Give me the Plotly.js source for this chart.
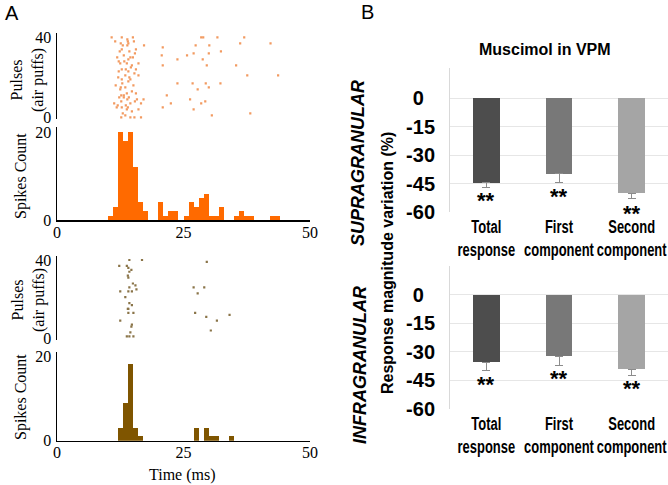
<!DOCTYPE html>
<html>
<head>
<meta charset="utf-8">
<script src="https://cdn.plot.ly/plotly-3.0.1.min.js"></script>
<style>html,body{margin:0;padding:0;background:#fff;}#chart{width:668px;height:485px;}</style>
</head>
<body>
<div id="chart"></div>
<script>
// ---------- Panel A data ----------
// top raster (orange): spike time (ms) and pulse index
var topRasterT = [10.8,12.8,13.9,15.0,14.0,12.6,14.1,13.9,17.2,15.6,12.8,14.3,15.4,13.2,14.5,12.2,14.1,16.1,12.5,13.8,
  14.6,12.8,15.6,12.2,14.1,15.3,16.1,13.5,12.8,14.5,12.9,14.1,13.5,12.5,14.8,13.8,15.6,12.7,12.3,13.2,
  12.7,13.9,15.4,17.1,12.0,13.6,14.5,16.6,11.8,12.8,13.8,14.8,16.1,13.5,14.5,12.7,15.3,16.6,
  11.5,12.4,13.0,15.2,11.9,13.3,15.0,12.1,14.8,13.6,11.6,14.3,12.6,15.1,13.2,14.2,11.3,13.0,14.0,15.8,
  20.9,20.7,23.8,20.9,25.7,27.0,27.4,28.5,28.9,30.1,30.0,28.8,29.6,31.7,32.4,35.4,36.2,37.0,42.2,37.6,
  43.7,23.8,26.8,29.4,32.3,27.8,30.0,21.7,26.3,29.3,22.5,20.9,28.5,27.0,30.6,38.2];
var topRasterP = [40,40,39,40,38,37,37,36,36,34,34,33,32,31,30,28,29,27,27,27,
  25,24,24,23,23,22,21,21,19,19,17,18,15,14,13,12,12,11,10,10,
  8,9,8,9,6,6,7,7,5,5,4,3,4,1,0,0,0,0,
  38,33,36,38,30,28,30,20,26,24,16,20,15,16,11,10,7,2,5,9,
  35,31,29,26,31,32,36,40,40,36,32,29,26,40,33,26,37,40,37,21,
  21,17,17,17,17,14,15,11,9,8,7,5,7,4,1,2];
// top histogram (orange): 1-ms bins
var topBinStart = [10,11,12,13,14,15,16,17,20,21,22,23,25,26,27,28,29,30,31,32,35,36,37,38,42,43];
var topCounts   = [1,3,20,18,20,12,4,2,4,1,2,2,1,4,3,5,6,1,1,3,1,2,1,1,1,1];
// bottom raster (brown)
var botRasterT = [16.8,12.3,13.8,14.3,14.1,14.7,14.3,14.0,14.1,29.6,15.0,15.5,14.3,12.5,14.1,14.8,15.7,13.5,27.0,29.1,
  27.8,14.3,14.8,14.0,14.1,14.1,15.1,27.3,29.5,34.1,31.6,12.5,14.8,14.7,30.4,13.8,14.3,15.1,14.5];
var botRasterP = [40,37,37,40,36,35,34,32,31,39,28,27,26,24,24,24,25,21,26,26,
  23,18,17,15,15,13,13,13,11,12,9,9,7,6,4,1,1,1,3];
// bottom histogram (brown)
var botBinStart = [12,13,14,15,16,27,29,30,31,34];
var botCounts   = [3,9,18,3,1,3,3,1,1,1];
var timeTicks = [0,25,50];

// ---------- Panel B data ----------
var barCats = ['Total<br>response','First<br>component','Second<br>component'];
var supraVals = [-44.5,-39.7,-50.0];
var supraErr  = [2.4,4.5,3.0];
var infraVals = [-35.4,-32.4,-39.2];
var infraErr  = [4.2,4.7,3.1];
var barColors = ['#4d4d4d','#787878','#a5a5a5'];
var magTicks = [0,-15,-30,-45,-60];

var W = 668, H = 485;
function fx(p){return p/W;}
function fy(p){return 1-p/H;}

var serif = 'Liberation Serif, Times New Roman, serif';
var sans = 'Liberation Sans, Arial, sans-serif';

var traces = [
  {type:'scatter', mode:'markers', x:topRasterT, y:topRasterP, xaxis:'x', yaxis:'y',
   marker:{symbol:'square', size:2.2, color:'#f29a60'}, hoverinfo:'skip'},
  {type:'bar', x:topBinStart, y:topCounts, offset:0, width:1, xaxis:'x2', yaxis:'y2',
   marker:{color:'#ff6a00', line:{width:0}}},
  {type:'scatter', mode:'markers', x:botRasterT, y:botRasterP, xaxis:'x3', yaxis:'y3',
   marker:{symbol:'square', size:2.2, color:'#8a7448'}, hoverinfo:'skip'},
  {type:'bar', x:botBinStart, y:botCounts, offset:0, width:1, xaxis:'x4', yaxis:'y4',
   marker:{color:'#7f5500', line:{width:0}}},
  {type:'bar', x:barCats, y:supraVals, xaxis:'x5', yaxis:'y5', width:0.37,
   marker:{color:barColors, line:{width:0}},
   error_y:{type:'data', symmetric:false, array:[0,0,0], arrayminus:supraErr, color:'#8c8c8c', thickness:1, width:4}},
  {type:'bar', x:barCats, y:infraVals, xaxis:'x6', yaxis:'y6', width:0.37,
   marker:{color:barColors, line:{width:0}},
   error_y:{type:'data', symmetric:false, array:[0,0,0], arrayminus:infraErr, color:'#8c8c8c', thickness:1, width:4}}
];

var xDomA = [fx(57), fx(310)];
var xDomB = [fx(450), 1];

function rasterX(anchor){return {domain:xDomA, range:[0,50], visible:false, anchor:anchor, fixedrange:true};}
function histX(anchor){return {domain:xDomA, range:[0,50], anchor:anchor, showline:true, linecolor:'#000', linewidth:1.5,
  tickvals:timeTicks, ticktext:timeTicks.map(String), ticks:'', showgrid:false, zeroline:false,
  ticklabelstandoff:-3, tickfont:{family:serif, size:16, color:'#000'}};}
function leftY(anchor, dom, rng, tv){return {domain:dom, range:rng, anchor:anchor, showline:true, linecolor:'#000', linewidth:1.5,
  tickvals:tv, ticktext:tv.map(String), ticks:'', showgrid:false, zeroline:false, ticklabelstandoff:1,
  tickfont:{family:serif, size:16, color:'#000'}};}
function barX(anchor){return {domain:xDomB, anchor:anchor, type:'category', showline:false, ticks:'', showgrid:false,
  tickangle:0, tickfont:{family:sans, size:18, color:'#000', weight:'bold'}, ticklabelstandoff:2};}
function barY(anchor, dom, rng){return {domain:dom, range:rng, anchor:anchor, showline:true, linecolor:'#d9d9d9', linewidth:1,
  tickvals:magTicks, ticktext:magTicks.map(function(v){return v===0 ? '0\u2007' : String(v);}),
  ticks:'', showgrid:true, gridcolor:'#e6e6e6', gridwidth:1, zeroline:false,
  ticklabelstandoff:10, tickfont:{family:sans, size:20, color:'#000', weight:'bold'}};}

var ann = [];
function A(o){ann.push(Object.assign({showarrow:false, xref:'paper', yref:'paper'}, o));}
A({text:'A', x:fx(3), y:fy(13), xanchor:'left', yanchor:'middle', font:{family:sans, size:20, color:'#000'}});
A({text:'B', x:fx(359), y:fy(12), xanchor:'left', yanchor:'middle', font:{family:sans, size:20, color:'#000'}});
A({text:'Pulses<br>(air puffs)', x:fx(28), y:fy(80), textangle:-90, xanchor:'center', yanchor:'middle', font:{family:serif, size:16, color:'#000'}});
A({text:'Spikes Count', x:fx(21), y:fy(176), textangle:-90, xanchor:'center', yanchor:'middle', font:{family:serif, size:16, color:'#000'}});
A({text:'Pulses<br>(air puffs)', x:fx(28), y:fy(300), textangle:-90, xanchor:'center', yanchor:'middle', font:{family:serif, size:16, color:'#000'}});
A({text:'Spikes Count', x:fx(21), y:fy(397), textangle:-90, xanchor:'center', yanchor:'middle', font:{family:serif, size:16, color:'#000'}});
A({text:'Time (ms)', x:fx(182), y:fy(475), xanchor:'center', yanchor:'middle', font:{family:serif, size:16, color:'#000'}});
A({text:'<b>Muscimol in VPM</b>', x:fx(545), y:fy(50), xanchor:'center', yanchor:'middle', font:{family:sans, size:16, color:'#000'}});
A({text:'<b><i>SUPRAGRANULAR</i></b>', x:fx(358), y:fy(163), textangle:-90, xanchor:'center', yanchor:'middle', font:{family:sans, size:18, color:'#000'}});
A({text:'<b><i>INFRAGRANULAR</i></b>', x:fx(360), y:fy(365), textangle:-90, xanchor:'center', yanchor:'middle', font:{family:sans, size:18, color:'#000'}});
A({text:'<b>Response magnitude variation (%)</b>', x:fx(387), y:fy(263), textangle:-90, xanchor:'center', yanchor:'middle', font:{family:sans, size:16, color:'#000'}});

var supraStarY = [-54,-52,-60];
var supraStarShift = [0,0,-2];
var infraStarY = [-47,-44,-49.5];
for (var i=0;i<3;i++){
  ann.push({showarrow:false, xref:'x5', yref:'y5', x:barCats[i], y:supraStarY[i], yshift:supraStarShift[i], text:'<b>**</b>', font:{family:sans, size:22, color:'#000'}, yanchor:'middle'});
  ann.push({showarrow:false, xref:'x6', yref:'y6', x:barCats[i], y:infraStarY[i], text:'<b>**</b>', font:{family:sans, size:22, color:'#000'}, yanchor:'middle'});
}

var layout = {
  width:W, height:H, margin:{l:0,r:0,t:0,b:0}, paper_bgcolor:'#fff', plot_bgcolor:'rgba(0,0,0,0)',
  showlegend:false, bargap:0,
  xaxis: rasterX('y'),
  yaxis: leftY('x', [fy(119.3), fy(33.3)], [-1,42], [0,40]),
  xaxis2: histX('y2'),
  yaxis2: leftY('x2', [fy(220), fy(126.7)], [0,21.3], [0,20]),
  xaxis3: rasterX('y3'),
  yaxis3: leftY('x3', [fy(340.3), fy(256.1)], [-1,42], [0,40]),
  xaxis4: histX('y4'),
  yaxis4: leftY('x4', [fy(440.7), fy(351.7)], [0,21], [0,20]),
  xaxis5: barX('y5'),
  yaxis5: barY('x5', [fy(212), fy(68)], [-60,16]),
  xaxis6: barX('y6'),
  yaxis6: barY('x6', [fy(409), fy(266)], [-60,15]),
  annotations: ann
};

// condense the category labels horizontally (the original uses a narrow bold face)
function condense(){
  var nodes = document.querySelectorAll('g.x5tick text tspan.line, g.x6tick text tspan.line');
  nodes.forEach(function(t){
    var len = t.getComputedTextLength();
    t.setAttribute('textLength', (len*0.72).toFixed(1));
    t.setAttribute('lengthAdjust', 'spacingAndGlyphs');
  });
}
Plotly.newPlot('chart', traces, layout, {staticPlot:true, displayModeBar:false}).then(condense);
</script>
</body>
</html>
